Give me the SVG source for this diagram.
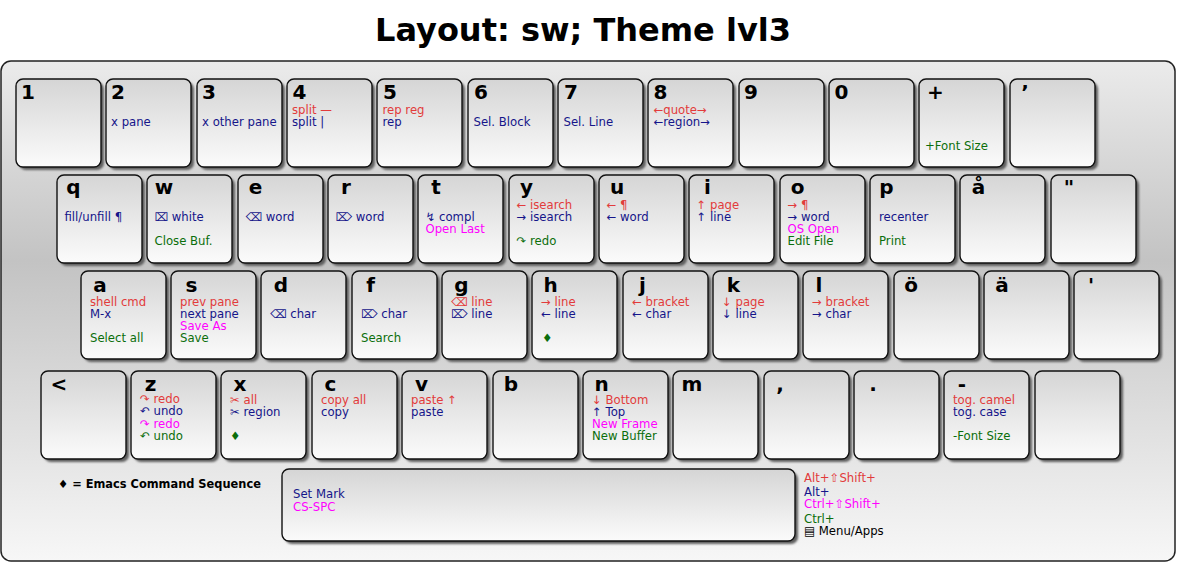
<svg xmlns="http://www.w3.org/2000/svg" width="1177" height="563" viewBox="0 0 1177 563">
<defs>
<linearGradient id="bg" x1="0" y1="0" x2="0" y2="1">
<stop offset="0" stop-color="#ebebeb"/>
<stop offset="0.4" stop-color="#c3c3c3"/>
<stop offset="1" stop-color="#f7f7f7"/>
</linearGradient>
<linearGradient id="kg" x1="0" y1="0" x2="0" y2="1">
<stop offset="0" stop-color="#d5d5d5"/>
<stop offset="1" stop-color="#fbfbfb"/>
</linearGradient>
<filter id="blur" x="-5%" y="-5%" width="110%" height="110%"><feGaussianBlur stdDeviation="0.9"/></filter>
</defs>
<style>
.sh{fill:#5e5e5e;filter:url(#blur)}
.k{fill:url(#kg);stroke:#111;stroke-width:1.4}
.lb{font-family:"DejaVu Sans",sans-serif;font-weight:bold;font-size:20px;fill:#000;text-anchor:middle}
.t{font-family:"DejaVu Sans",sans-serif;font-size:11.7px}
.dn{transform:translateY(1px)}
.r{fill:#e23b3b}.b{fill:#15158a}.p{fill:#ff00ff}.g{fill:#0b6e0b}.n{fill:#000}
.title{font-family:"DejaVu Sans",sans-serif;font-weight:bold;font-size:32px;text-anchor:middle;fill:#000}
.leg{font-family:"DejaVu Sans",sans-serif;font-weight:bold;font-size:11.4px;fill:#000}
</style>
<text class="title" x="583" y="41">Layout: sw; Theme lvl3</text>
<rect id="board" x="1" y="61" width="1174" height="500" rx="10" fill="url(#bg)" stroke="#222" stroke-width="1.5"/>
<g id="connectors"/>

<!-- Row 1 -->
<g id="key-1"><rect class="sh" x="19" y="82" width="85" height="88" rx="7"/><rect class="k" x="16" y="79" width="85" height="88" rx="7"/><text class="lb" x="28" y="99">1</text></g>
<g id="key-2"><rect class="sh" x="109" y="82" width="85" height="88" rx="7"/><rect class="k" x="106" y="79" width="85" height="88" rx="7"/><text class="lb" x="118" y="99">2</text><text class="t b" x="111" y="126">x pane</text></g>
<g id="key-3"><rect class="sh" x="200" y="82" width="85" height="88" rx="7"/><rect class="k" x="197" y="79" width="85" height="88" rx="7"/><text class="lb" x="209" y="99">3</text><text class="t b" x="202" y="126">x other pane</text></g>
<g id="key-4"><rect class="sh" x="290" y="82" width="85" height="88" rx="7"/><rect class="k" x="287" y="79" width="85" height="88" rx="7"/><text class="lb" x="299.5" y="99">4</text><text class="t r" x="292" y="114">split —</text><text class="t b" x="292" y="126">split |</text></g>
<g id="key-5"><rect class="sh" x="380" y="82" width="85" height="88" rx="7"/><rect class="k" x="377" y="79" width="85" height="88" rx="7"/><text class="lb" x="390" y="99">5</text><text class="t r" x="382.5" y="114">rep reg</text><text class="t b" x="382.5" y="126">rep</text></g>
<g id="key-6"><rect class="sh" x="471" y="82" width="85" height="88" rx="7"/><rect class="k" x="468" y="79" width="85" height="88" rx="7"/><text class="lb" x="481" y="99">6</text><text class="t b" x="473.5" y="126">Sel. Block</text></g>
<g id="key-7"><rect class="sh" x="561" y="82" width="85" height="88" rx="7"/><rect class="k" x="558" y="79" width="85" height="88" rx="7"/><text class="lb" x="571" y="99">7</text><text class="t b" x="563.5" y="126">Sel. Line</text></g>
<g id="key-8"><rect class="sh" x="651" y="82" width="85" height="88" rx="7"/><rect class="k" x="648" y="79" width="85" height="88" rx="7"/><text class="lb" x="660.5" y="99">8</text><text class="t r" x="653.5" y="114">←quote→</text><text class="t b" x="653.5" y="126">←region→</text></g>
<g id="key-9"><rect class="sh" x="742" y="82" width="85" height="88" rx="7"/><rect class="k" x="739" y="79" width="85" height="88" rx="7"/><text class="lb" x="751" y="99">9</text></g>
<g id="key-0"><rect class="sh" x="832" y="82" width="85" height="88" rx="7"/><rect class="k" x="829" y="79" width="85" height="88" rx="7"/><text class="lb" x="841.5" y="99">0</text></g>
<g id="key-plus"><rect class="sh" x="922" y="82" width="85" height="88" rx="7"/><rect class="k" x="919" y="79" width="85" height="88" rx="7"/><text class="lb" x="935.5" y="99">+</text><text class="t g" x="925" y="150">+Font Size</text></g>
<g id="key-acute"><rect class="sh" x="1013" y="82" width="85" height="88" rx="7"/><rect class="k" x="1010" y="79" width="85" height="88" rx="7"/><text class="lb" x="1025" y="99">’</text></g>

<!-- Row 2 -->
<g id="key-q"><rect class="sh" x="60" y="178" width="85" height="88" rx="7"/><rect class="k" x="57" y="175" width="85" height="88" rx="7"/><text class="lb" x="73.5" y="194">q</text><text class="t b" x="64.5" y="221">fill/unfill ¶</text></g>
<g id="key-w"><rect class="sh" x="150" y="178" width="85" height="88" rx="7"/><rect class="k" x="147" y="175" width="85" height="88" rx="7"/><text class="lb" x="164" y="194">w</text><text class="t b" x="154.5" y="221">⌧ white</text><text class="t g" x="154.5" y="245">Close Buf.</text></g>
<g id="key-e"><rect class="sh" x="241" y="178" width="85" height="88" rx="7"/><rect class="k" x="238" y="175" width="85" height="88" rx="7"/><text class="lb" x="255.5" y="194">e</text><text class="t b" x="245.5" y="221">⌫ word</text></g>
<g id="key-r"><rect class="sh" x="331" y="178" width="85" height="88" rx="7"/><rect class="k" x="328" y="175" width="85" height="88" rx="7"/><text class="lb" x="346" y="194">r</text><text class="t b" x="335.5" y="221">⌦ word</text></g>
<g id="key-t"><rect class="sh" x="421" y="178" width="85" height="88" rx="7"/><rect class="k" x="418" y="175" width="85" height="88" rx="7"/><text class="lb" x="436" y="194">t</text><text class="t b" x="425.5" y="221">↯ compl</text><text class="t p" x="425.5" y="233">Open Last</text></g>
<g id="key-y"><rect class="sh" x="512" y="178" width="85" height="88" rx="7"/><rect class="k" x="509" y="175" width="85" height="88" rx="7"/><text class="lb" x="526.5" y="194">y</text><text class="t r" x="516.5" y="209">← isearch</text><text class="t b" x="516.5" y="221">→ isearch</text><text class="t g" x="516.5" y="245">↷ redo</text></g>
<g id="key-u"><rect class="sh" x="602" y="178" width="85" height="88" rx="7"/><rect class="k" x="599" y="175" width="85" height="88" rx="7"/><text class="lb" x="617" y="194">u</text><text class="t r" x="606.5" y="209">← ¶</text><text class="t b" x="606.5" y="221">← word</text></g>
<g id="key-i"><rect class="sh" x="692" y="178" width="85" height="88" rx="7"/><rect class="k" x="689" y="175" width="85" height="88" rx="7"/><text class="lb" x="707.5" y="194">i</text><text class="t r" x="696.5" y="209">↑ page</text><text class="t b" x="696.5" y="221">↑ line</text></g>
<g id="key-o"><rect class="sh" x="783" y="178" width="85" height="88" rx="7"/><rect class="k" x="780" y="175" width="85" height="88" rx="7"/><text class="lb" x="797.5" y="194">o</text><text class="t r" x="787.5" y="209">→ ¶</text><text class="t b" x="787.5" y="221">→ word</text><text class="t p" x="787.5" y="233">OS Open</text><text class="t g" x="787.5" y="245">Edit File</text></g>
<g id="key-p"><rect class="sh" x="873" y="178" width="85" height="88" rx="7"/><rect class="k" x="870" y="175" width="85" height="88" rx="7"/><text class="lb" x="886.5" y="194">p</text><text class="t b" x="879" y="221">recenter</text><text class="t g" x="879" y="245">Print</text></g>
<g id="key-aring"><rect class="sh" x="963" y="178" width="85" height="88" rx="7"/><rect class="k" x="960" y="175" width="85" height="88" rx="7"/><text class="lb" x="978.5" y="194">å</text></g>
<g id="key-dquote"><rect class="sh" x="1054" y="178" width="85" height="88" rx="7"/><rect class="k" x="1051" y="175" width="85" height="88" rx="7"/><text class="lb" x="1069" y="194">"</text></g>

<!-- Row 3 -->
<g id="key-a"><rect class="sh" x="84" y="274" width="85" height="88" rx="7"/><rect class="k" x="81" y="271" width="85" height="88" rx="7"/><text class="lb" x="100" y="292">a</text><text class="t r" x="90" y="306">shell cmd</text><text class="t b" x="90" y="318">M-x</text><text class="t g" x="90" y="342">Select all</text></g>
<g id="key-s"><rect class="sh" x="174" y="274" width="85" height="88" rx="7"/><rect class="k" x="171" y="271" width="85" height="88" rx="7"/><text class="lb" x="191.5" y="292">s</text><text class="t r" x="180" y="306">prev pane</text><text class="t b" x="180" y="318">next pane</text><text class="t p" x="180" y="330">Save As</text><text class="t g" x="180" y="342">Save</text></g>
<g id="key-d"><rect class="sh" x="264" y="274" width="85" height="88" rx="7"/><rect class="k" x="261" y="271" width="85" height="88" rx="7"/><text class="lb" x="281" y="292">d</text><text class="t b" x="270" y="318">⌫ char</text></g>
<g id="key-f"><rect class="sh" x="355" y="274" width="85" height="88" rx="7"/><rect class="k" x="352" y="271" width="85" height="88" rx="7"/><text class="lb" x="370.5" y="292">f</text><text class="t b" x="361" y="318">⌦ char</text><text class="t g" x="361" y="342">Search</text></g>
<g id="key-g"><rect class="sh" x="445" y="274" width="85" height="88" rx="7"/><rect class="k" x="442" y="271" width="85" height="88" rx="7"/><text class="lb" x="461.5" y="292">g</text><text class="t r" x="451" y="306">⌫ line</text><text class="t b" x="451" y="318">⌦ line</text></g>
<g id="key-h"><rect class="sh" x="535" y="274" width="85" height="88" rx="7"/><rect class="k" x="532" y="271" width="85" height="88" rx="7"/><text class="lb" x="550.5" y="292">h</text><text class="t r" x="541" y="306">→ line</text><text class="t b" x="541" y="318">← line</text><text class="t g" x="542" y="342">♦</text></g>
<g id="key-j"><rect class="sh" x="626" y="274" width="85" height="88" rx="7"/><rect class="k" x="623" y="271" width="85" height="88" rx="7"/><text class="lb" x="642.5" y="292">j</text><text class="t r" x="632" y="306">← bracket</text><text class="t b" x="632" y="318">← char</text></g>
<g id="key-k"><rect class="sh" x="716" y="274" width="85" height="88" rx="7"/><rect class="k" x="713" y="271" width="85" height="88" rx="7"/><text class="lb" x="733.5" y="292">k</text><text class="t r" x="722" y="306">↓ page</text><text class="t b" x="722" y="318">↓ line</text></g>
<g id="key-l"><rect class="sh" x="806" y="274" width="85" height="88" rx="7"/><rect class="k" x="803" y="271" width="85" height="88" rx="7"/><text class="lb" x="819" y="292">l</text><text class="t r" x="812" y="306">→ bracket</text><text class="t b" x="812" y="318">→ char</text></g>
<g id="key-odia"><rect class="sh" x="897" y="274" width="85" height="88" rx="7"/><rect class="k" x="894" y="271" width="85" height="88" rx="7"/><text class="lb" x="911" y="292">ö</text></g>
<g id="key-adia"><rect class="sh" x="987" y="274" width="85" height="88" rx="7"/><rect class="k" x="984" y="271" width="85" height="88" rx="7"/><text class="lb" x="1002" y="292">ä</text></g>
<g id="key-apos"><rect class="sh" x="1077" y="274" width="85" height="88" rx="7"/><rect class="k" x="1074" y="271" width="85" height="88" rx="7"/><text class="lb" x="1091" y="292">'</text></g>

<!-- Row 4 -->
<g id="key-lt"><rect class="sh" x="44" y="374" width="85" height="88" rx="7"/><rect class="k" x="41" y="371" width="85" height="88" rx="7"/><text class="lb" x="59" y="391">&lt;</text></g>
<g id="key-z"><rect class="sh" x="134" y="374" width="85" height="88" rx="7"/><rect class="k" x="131" y="371" width="85" height="88" rx="7"/><text class="lb" x="150.5" y="391">z</text><text class="t r" x="140" y="403">↷ redo</text><text class="t b" x="140" y="415">↶ undo</text><text class="t p" x="140" y="428">↷ redo</text><text class="t g" x="140" y="440">↶ undo</text></g>
<g id="key-x"><rect class="sh" x="224" y="374" width="85" height="88" rx="7"/><rect class="k" x="221" y="371" width="85" height="88" rx="7"/><text class="lb" x="240" y="391">x</text><text class="t r" x="230" y="404">✂ all</text><text class="t b" x="230" y="416">✂ region</text><text class="t g" x="230" y="440">♦</text></g>
<g id="key-c"><rect class="sh" x="315" y="374" width="85" height="88" rx="7"/><rect class="k" x="312" y="371" width="85" height="88" rx="7"/><text class="lb" x="330.5" y="391">c</text><text class="t r" x="321" y="404">copy all</text><text class="t b" x="321" y="416">copy</text></g>
<g id="key-v"><rect class="sh" x="405" y="374" width="85" height="88" rx="7"/><rect class="k" x="402" y="371" width="85" height="88" rx="7"/><text class="lb" x="421.5" y="391">v</text><text class="t r" x="411" y="404">paste ↑</text><text class="t b" x="411" y="416">paste</text></g>
<g id="key-b"><rect class="sh" x="496" y="374" width="85" height="88" rx="7"/><rect class="k" x="493" y="371" width="85" height="88" rx="7"/><text class="lb" x="511" y="391">b</text></g>
<g id="key-n"><rect class="sh" x="586" y="374" width="85" height="88" rx="7"/><rect class="k" x="583" y="371" width="85" height="88" rx="7"/><text class="lb" x="601.5" y="391">n</text><text class="t r" x="592" y="404">↓ Bottom</text><text class="t b" x="592" y="416">↑ Top</text><text class="t p" x="592" y="428">New Frame</text><text class="t g" x="592" y="440">New Buffer</text></g>
<g id="key-m"><rect class="sh" x="676" y="374" width="85" height="88" rx="7"/><rect class="k" x="673" y="371" width="85" height="88" rx="7"/><text class="lb" x="692" y="391">m</text></g>
<g id="key-comma"><rect class="sh" x="767" y="374" width="85" height="88" rx="7"/><rect class="k" x="764" y="371" width="85" height="88" rx="7"/><text class="lb" x="780" y="391">,</text></g>
<g id="key-period"><rect class="sh" x="857" y="374" width="85" height="88" rx="7"/><rect class="k" x="854" y="371" width="85" height="88" rx="7"/><text class="lb" x="873" y="391">.</text></g>
<g id="key-minus"><rect class="sh" x="947" y="374" width="85" height="88" rx="7"/><rect class="k" x="944" y="371" width="85" height="88" rx="7"/><text class="lb" x="962" y="391">-</text><text class="t r" x="953" y="404">tog. camel</text><text class="t b" x="953" y="416">tog. case</text><text class="t g" x="953" y="440">-Font Size</text></g>
<g id="key-blank"><rect class="sh" x="1038" y="374" width="85" height="88" rx="7"/><rect class="k" x="1035" y="371" width="85" height="88" rx="7"/></g>

<!-- Space -->
<g id="key-space"><rect class="sh" x="285" y="472" width="513" height="72" rx="7"/><rect class="k" x="282" y="469" width="513" height="72" rx="7"/><text class="t b" x="293" y="498">Set Mark</text><text class="t p" x="293" y="511">CS-SPC</text></g>

<!-- Legends -->
<g id="legend-emacs"><text class="leg" x="58" y="488">♦ = Emacs Command Sequence</text></g>
<g id="legend-mods">
<text class="t r" x="804" y="482">Alt+⇧Shift+</text>
<text class="t b" x="804" y="496">Alt+</text>
<text class="t p" x="804" y="508">Ctrl+⇧Shift+</text>
<text class="t g" x="804" y="523">Ctrl+</text>
<text class="t n" x="804" y="535">▤ Menu/Apps</text>
</g>
</svg>
